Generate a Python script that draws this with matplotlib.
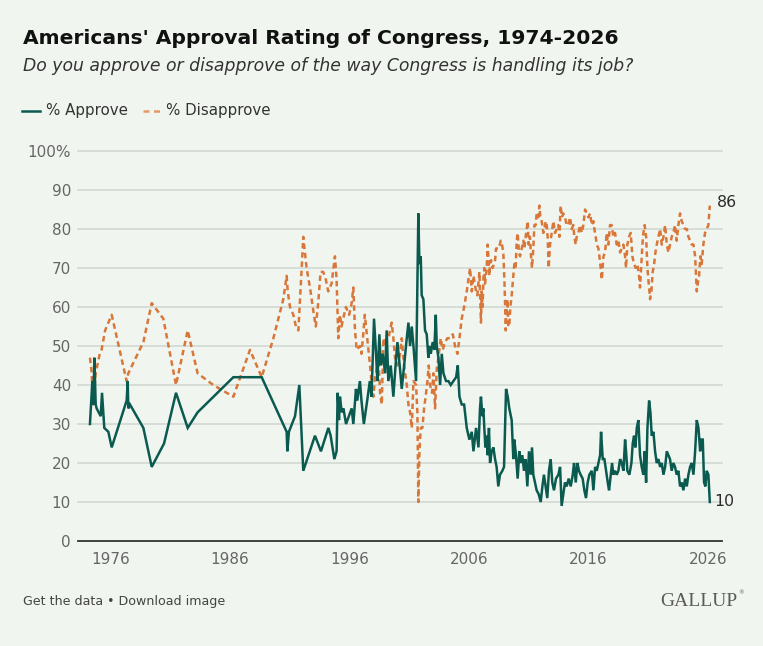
import matplotlib
matplotlib.use("Agg")
import matplotlib.pyplot as plt
from matplotlib.lines import Line2D

# ---------------- data ----------------
approve_years = [
    1974.28, 1974.48, 1974.56, 1974.65, 1974.76, 1974.84, 1975.18, 1975.29, 1975.48, 1975.82,
    1976.10, 1977.35, 1977.44, 1977.49, 1977.63, 1978.75, 1979.45, 1980.48, 1981.48, 1982.46,
    1983.29, 1986.28, 1988.65, 1990.74, 1990.80, 1990.93, 1991.44, 1991.80, 1992.13, 1993.11,
    1993.61, 1994.23, 1994.42, 1994.73, 1994.92, 1995.01, 1995.12, 1995.20, 1995.35, 1995.49,
    1995.71, 1996.18, 1996.32, 1996.54, 1996.65, 1996.87, 1997.00, 1997.20, 1997.48, 1997.70,
    1997.84, 1998.05, 1998.22, 1998.33, 1998.50, 1998.61, 1998.78, 1998.98, 1999.11, 1999.25,
    1999.45, 1999.67, 1999.90, 2000.01, 2000.23, 2000.37, 2000.57, 2000.79, 2000.93, 2001.07,
    2001.21, 2001.35, 2001.57, 2001.76, 2001.85, 2001.96, 2002.04, 2002.18, 2002.32, 2002.46,
    2002.60, 2002.68, 2002.80, 2002.96, 2003.10, 2003.22, 2003.30, 2003.44, 2003.58, 2003.72,
    2003.86, 2004.08, 2004.28, 2004.47, 2004.69, 2004.92, 2005.06, 2005.20, 2005.39, 2005.59,
    2005.81, 2006.03, 2006.23, 2006.37, 2006.59, 2006.79, 2006.92, 2007.00, 2007.12, 2007.20,
    2007.28, 2007.37, 2007.48, 2007.56, 2007.67, 2007.76, 2007.90, 2008.04, 2008.18, 2008.31,
    2008.45, 2008.59, 2008.79, 2008.93, 2009.10, 2009.24, 2009.37, 2009.57, 2009.71, 2009.79,
    2009.93, 2010.07, 2010.21, 2010.32, 2010.46, 2010.60, 2010.74, 2010.88, 2011.02, 2011.16,
    2011.27, 2011.38, 2011.52, 2011.66, 2011.83, 2012.00, 2012.14, 2012.27, 2012.41, 2012.55,
    2012.69, 2012.83, 2012.97, 2013.11, 2013.28, 2013.48, 2013.62, 2013.75, 2013.89, 2014.03,
    2014.17, 2014.34, 2014.51, 2014.68, 2014.79, 2014.93, 2015.07, 2015.20, 2015.34, 2015.51,
    2015.65, 2015.79, 2015.93, 2016.07, 2016.27, 2016.41, 2016.55, 2016.69, 2016.83, 2016.97,
    2017.05, 2017.19, 2017.33, 2017.47, 2017.61, 2017.72, 2017.86, 2017.97, 2018.08, 2018.22,
    2018.36, 2018.50, 2018.64, 2018.78, 2018.92, 2019.06, 2019.14, 2019.25, 2019.42, 2019.59,
    2019.70, 2019.81, 2019.92, 2020.04, 2020.17, 2020.31, 2020.45, 2020.59, 2020.70, 2020.82,
    2020.93, 2021.07, 2021.18, 2021.29, 2021.43, 2021.57, 2021.71, 2021.85, 2021.99, 2022.13,
    2022.27, 2022.41, 2022.55, 2022.69, 2022.82, 2022.96, 2023.10, 2023.24, 2023.38, 2023.52,
    2023.66, 2023.80, 2023.94, 2024.08, 2024.22, 2024.36, 2024.50, 2024.64, 2024.78, 2024.92,
    2025.06, 2025.20, 2025.34, 2025.42, 2025.56, 2025.67, 2025.78, 2025.89, 2026.03, 2026.15,
]
approve_values = [
    30, 41, 35, 47, 35, 34, 32, 38, 29, 28,
    24, 36, 41, 34, 35, 29, 19, 25, 38, 29,
    33, 42, 42, 28, 23, 28, 32, 40, 18, 27,
    23, 29, 27, 21, 23, 38, 31, 37, 33, 34,
    30, 34, 30, 39, 36, 41, 36, 30, 36, 41,
    37, 57, 48, 41, 53, 45, 48, 43, 54, 41,
    45, 37, 47, 51, 44, 39, 45, 52, 56, 50,
    55, 50, 41, 84, 71, 73, 63, 62, 54, 53,
    47, 50, 48, 51, 49, 58, 50, 47, 40, 48,
    43, 41, 41, 40, 41, 42, 45, 37, 35, 35,
    29, 26, 28, 23, 29, 24, 34, 37, 32, 34,
    29, 24, 27, 22, 29, 20, 23, 24, 21, 19,
    14, 17, 18, 19, 39, 37, 34, 31, 21, 26,
    22, 16, 23, 20, 22, 18, 21, 14, 23, 17,
    24, 17, 15, 13, 12, 10, 14, 17, 14, 11,
    18, 21, 15, 13, 16, 17, 19, 9, 12, 15,
    14, 16, 14, 17, 20, 15, 20, 18, 17, 16,
    13, 11, 15, 17, 18, 13, 19, 18, 20, 22,
    28, 21, 21, 18, 15, 13, 17, 20, 17, 18,
    17, 18, 21, 20, 18, 26, 23, 18, 17, 20,
    25, 27, 24, 29, 31, 22, 19, 17, 23, 15,
    29, 36, 33, 27, 28, 23, 20, 21, 19, 20,
    17, 19, 23, 22, 21, 18, 20, 19, 17, 18,
    14, 15, 13, 16, 14, 17, 19, 20, 17, 23,
    31, 29, 23, 26, 26, 15, 14, 18, 17, 10,
]

disapprove_years = [
    1974.28, 1974.40, 1974.56, 1974.76, 1975.10, 1975.25, 1975.55, 1976.10, 1977.35, 1977.49,
    1978.75, 1979.45, 1980.42, 1981.48, 1982.46, 1983.29, 1984.60, 1986.28, 1987.67, 1988.65,
    1989.63, 1990.46, 1990.74, 1990.83, 1991.02, 1991.30, 1991.52, 1991.72, 1992.00, 1992.13,
    1992.41, 1992.74, 1993.02, 1993.18, 1993.38, 1993.58, 1993.80, 1994.02, 1994.22, 1994.50,
    1994.78, 1994.92, 1995.06, 1995.20, 1995.33, 1995.47, 1995.70, 1995.97, 1996.18, 1996.32,
    1996.46, 1996.60, 1996.87, 1997.00, 1997.15, 1997.28, 1997.48, 1997.72, 1997.86, 1998.00,
    1998.14, 1998.28, 1998.42, 1998.56, 1998.70, 1998.84, 1998.98, 1999.11, 1999.25, 1999.53,
    1999.67, 1999.81, 2000.01, 2000.23, 2000.37, 2000.57, 2000.79, 2000.93, 2001.07, 2001.21,
    2001.35, 2001.57, 2001.68, 2001.76, 2001.85, 2001.96, 2002.10, 2002.24, 2002.41, 2002.52,
    2002.63, 2002.74, 2002.91, 2003.02, 2003.16, 2003.30, 2003.44, 2003.63, 2003.80, 2004.00,
    2004.19, 2004.41, 2004.64, 2004.83, 2005.03, 2005.20, 2005.39, 2005.59, 2005.81, 2005.95,
    2006.09, 2006.23, 2006.37, 2006.59, 2006.70, 2006.87, 2007.00, 2007.06, 2007.14, 2007.20,
    2007.28, 2007.34, 2007.42, 2007.48, 2007.56, 2007.62, 2007.70, 2007.76, 2007.84, 2007.98,
    2008.18, 2008.26, 2008.37, 2008.51, 2008.65, 2008.76, 2008.87, 2008.96, 2009.01, 2009.07,
    2009.12, 2009.21, 2009.29, 2009.37, 2009.46, 2009.57, 2009.65, 2009.71, 2009.79, 2009.90,
    2009.99, 2010.07, 2010.18, 2010.27, 2010.41, 2010.55, 2010.63, 2010.74, 2010.83, 2010.91,
    2010.99, 2011.10, 2011.19, 2011.27, 2011.38, 2011.47, 2011.58, 2011.66, 2011.80, 2011.89,
    2011.97, 2012.08, 2012.22, 2012.30, 2012.42, 2012.50, 2012.58, 2012.67, 2012.72, 2012.78,
    2012.92, 2013.06, 2013.20, 2013.34, 2013.48, 2013.56, 2013.67, 2013.78, 2013.89, 2014.03,
    2014.17, 2014.31, 2014.45, 2014.59, 2014.73, 2014.81, 2014.93, 2015.01, 2015.15, 2015.29,
    2015.43, 2015.57, 2015.71, 2015.85, 2015.99, 2016.13, 2016.27, 2016.41, 2016.49, 2016.60,
    2016.69, 2016.83, 2016.91, 2017.02, 2017.11, 2017.25, 2017.39, 2017.52, 2017.66, 2017.80,
    2017.94, 2018.08, 2018.22, 2018.36, 2018.50, 2018.64, 2018.78, 2018.92, 2019.06, 2019.14,
    2019.25, 2019.39, 2019.53, 2019.67, 2019.81, 2019.95, 2020.09, 2020.23, 2020.31, 2020.40,
    2020.51, 2020.59, 2020.70, 2020.82, 2020.93, 2021.01, 2021.10, 2021.15, 2021.26, 2021.37,
    2021.49, 2021.60, 2021.71, 2021.85, 2021.99, 2022.13, 2022.27, 2022.41, 2022.55, 2022.69,
    2022.82, 2022.96, 2023.10, 2023.24, 2023.38, 2023.52, 2023.66, 2023.80, 2023.94, 2024.08,
    2024.22, 2024.36, 2024.50, 2024.64, 2024.78, 2024.92, 2025.00, 2025.06, 2025.14, 2025.25,
    2025.36, 2025.47, 2025.61, 2025.75, 2025.89, 2026.03, 2026.15,
]
disapprove_values = [
    47, 44, 35, 43, 48, 49, 54, 58, 41, 43,
    51, 61, 57, 40, 54, 43, 40, 37, 49, 42,
    52, 62, 68, 64, 60, 58, 55, 54, 70, 78,
    70, 64, 58, 55, 61, 69, 69, 67, 64, 66,
    73, 67, 52, 58, 55, 57, 60, 58, 61, 65,
    54, 49, 50, 48, 53, 58, 52, 45, 40, 37,
    42, 44, 47, 38, 35, 52, 50, 52, 52, 56,
    52, 47, 45, 48, 52, 45, 40, 35, 33, 29,
    41, 40, 33, 10, 23, 29, 29, 34, 38, 41,
    45, 40, 38, 43, 34, 44, 47, 52, 49, 51,
    52, 52, 53, 50, 48, 52, 57, 60, 64, 67,
    70, 64, 68, 64, 63, 69, 56, 64, 60, 67,
    70, 66, 68, 70, 76, 73, 68, 71, 72, 70,
    72, 75, 75, 75, 77, 76, 74, 67, 62, 54,
    57, 62, 55, 55, 60, 63, 66, 68, 71, 70,
    77, 79, 74, 73, 75, 77, 75, 78, 80, 82,
    76, 78, 73, 70, 75, 81, 81, 84, 83, 86,
    83, 82, 79, 80, 82, 81, 78, 70, 73, 76,
    79, 82, 79, 80, 81, 78, 86, 83, 84, 83,
    81, 81, 83, 80, 81, 78, 76, 78, 79, 81,
    79, 81, 85, 84, 83, 84, 81, 82, 80, 78,
    76, 75, 73, 70, 67, 73, 74, 79, 76, 81,
    81, 78, 79, 76, 77, 74, 75, 76, 73, 70,
    76, 78, 79, 73, 71, 70, 71, 68, 65, 70,
    76, 79, 81, 78, 70, 67, 64, 62, 64, 69,
    71, 74, 76, 78, 80, 76, 78, 81, 76, 74,
    76, 78, 79, 81, 77, 81, 84, 82, 81, 80,
    80, 78, 77, 76, 76, 73, 68, 64, 66, 68,
    73, 71, 76, 79, 80, 81, 86,
]

x_ticks = [1976, 1986, 1996, 2006, 2016, 2026]
y_ticks = [0, 10, 20, 30, 40, 50, 60, 70, 80, 90, 100]
y_tick_labels = ["0", "10", "20", "30", "40", "50", "60", "70", "80", "90", "100%"]

title = "Americans' Approval Rating of Congress, 1974-2026"
subtitle = "Do you approve or disapprove of the way Congress is handling its job?"
series_names = ["% Approve", "% Disapprove"]
footer = "Get the data \u2022 Download image"

# ---------------- style ----------------
W, H = 763, 646
BG = "#F0F6EF"
GREEN = "#0B5A50"
ORANGE = "#D9773A"
GRID = "#D6DDD6"
TXT = "#2B2B2B"
TICK = "#666666"

plt.rcParams['font.family'] = ['DejaVu Sans']

fig = plt.figure(figsize=(W / 100, H / 100), dpi=100, facecolor=BG)

def fx(px):
    return px / W

def fy(py):
    return 1 - py / H

ax_left, ax_right, ax_top, ax_bottom = 78, 722, 151, 541
ax = fig.add_axes([fx(ax_left), fy(ax_bottom), (ax_right - ax_left) / W, (ax_bottom - ax_top) / H])
ax.set_facecolor(BG)
ax.set_xlim(1973.28, 2027.17)
ax.set_ylim(0, 100)

for v in y_ticks[1:]:
    ax.axhline(v, color=GRID, lw=1.4, zorder=0, clip_on=False)

for s in ["top", "right", "left"]:
    ax.spines[s].set_visible(False)
ax.spines["bottom"].set_color("#333333")
ax.spines["bottom"].set_linewidth(1.3)

ax.set_yticks(y_ticks)
ax.set_yticklabels(y_tick_labels)
ax.set_xticks(x_ticks)
ax.set_xticklabels([str(t) for t in x_ticks])
ax.tick_params(axis="y", length=0, pad=5, labelsize=11, labelcolor=TICK)
ax.tick_params(axis="x", length=0, pad=8, labelsize=11, labelcolor=TICK)

ax.plot(disapprove_years, disapprove_values, color=ORANGE, lw=1.8,
        linestyle=(0, (2.2, 1.5)), zorder=3, clip_on=False)
ax.plot(approve_years, approve_values, color=GREEN, lw=1.8, zorder=4,
        solid_joinstyle="miter", clip_on=False)

# end labels
ax.annotate(str(disapprove_values[-1]), xy=(disapprove_years[-1], disapprove_values[-1]),
            xytext=(5, 2), textcoords="offset points", va="center", ha="left",
            fontsize=11.3, color=TXT, annotation_clip=False)
ax.annotate(str(approve_values[-1]), xy=(approve_years[-1], approve_values[-1]),
            xytext=(3, 0), textcoords="offset points", va="center", ha="left",
            fontsize=11.3, color=TXT, annotation_clip=False)

# title & subtitle
fig.text(fx(23), fy(44), title, fontsize=14.6, fontweight="bold", color="#111111",
         va="baseline", ha="left")
fig.text(fx(23), fy(71), subtitle, fontsize=12.4, fontstyle="italic", color="#333333",
         va="baseline", ha="left")

# legend
ly = 111
fig.add_artist(Line2D([fx(22), fx(40)], [fy(ly), fy(ly)], color=GREEN, lw=1.8,
                      transform=fig.transFigure))
fig.text(fx(46), fy(ly), series_names[0], fontsize=10.85, color="#333333", va="center", ha="left")
fig.add_artist(Line2D([fx(143), fx(161)], [fy(ly), fy(ly)], color="#E39A68", lw=1.8,
                      linestyle=(0, (2.4, 1.8)), transform=fig.transFigure))
fig.text(fx(166), fy(ly), series_names[1], fontsize=10.85, color="#333333", va="center", ha="left")

# footer
fig.text(fx(23), fy(601), footer, fontsize=9.1, color="#444444", va="center", ha="left")
fig.text(fx(737), fy(601), "GALLUP", fontsize=14, color="#5A5A5A", va="center", ha="right",
         family=["Liberation Serif", "DejaVu Serif"])
fig.text(fx(738), fy(593), "\u00ae", fontsize=4, color="#5A5A5A", va="center", ha="left")

fig.savefig("out.png", dpi=100, facecolor=BG)
